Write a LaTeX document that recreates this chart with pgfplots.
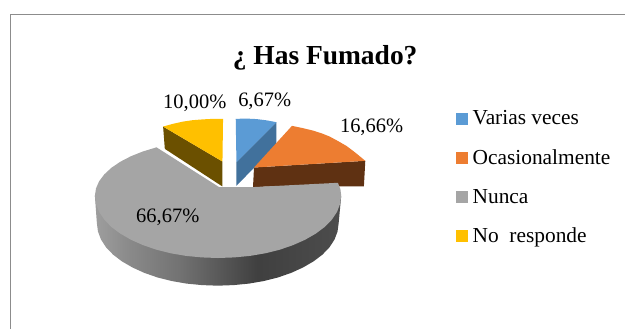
\documentclass[border=0pt]{standalone}
\usepackage{pgfplots}
\pgfplotsset{compat=1.18}
\usepackage{fontspec}
\setmainfont{Liberation Serif}
\definecolor{cblue}{HTML}{5B9BD5}
\definecolor{cblueside}{HTML}{41719C}
\definecolor{corange}{HTML}{ED7D31}
\definecolor{corangeside}{HTML}{5F3112}
\definecolor{cgray}{HTML}{A5A5A5}
\definecolor{cyellow}{HTML}{FFC000}
\definecolor{cyellowside}{HTML}{6B5000}
\definecolor{cframe}{HTML}{8C8C8C}
\pgfdeclarehorizontalshading{sideg}{100bp}{
 color(0bp)=(black!38!white);
 color(25bp)=(black!38!white);
 color(32bp)=(black!46!white);
 color(42bp)=(black!55!white);
 color(58bp)=(black!75!white);
 color(75bp)=(black!70!white);
 color(100bp)=(black!70!white)}
\begin{document}
\begin{tikzpicture}
\begin{axis}[
  scale only axis, width=626pt, height=329pt,
  xmin=0, xmax=626, ymin=0, ymax=329, y dir=reverse,
  hide axis, clip=false,
  legend style={draw=none, fill=none, at={(axis cs:457,110.5)}, anchor=north west,
    font=\fontsize{21.4}{24}\selectfont, row sep=23.4pt, inner sep=0pt, outer sep=0pt,
    nodes={inner sep=0pt, anchor=west}},
  legend cell align=left,
  legend image code/.code={\fill[#1] (0pt,-5.5pt) rectangle (11pt,5.5pt);\path[draw=none,fill=none] (0pt,0pt) -- (16pt,0pt);},
]
\addlegendimage{cblue}\addlegendentry{Varias veces}
\addlegendimage{corange}\addlegendentry{Ocasionalmente}
\addlegendimage{cgray}\addlegendentry{Nunca}
\addlegendimage{cyellow}\addlegendentry{No\ \ responde}

% page extent
\addplot[fill=white, draw=none, forget plot] coordinates {(0,0) (626,0) (626,329) (0,329)} -- cycle;
% frame
\addplot[cframe, line width=1.4pt, forget plot] coordinates {(10.5,329) (10.5,14.5) (626,14.5)};

% blue slice
\addplot[fill=cblueside, draw=none, forget plot] coordinates {(236.7,162.3) (276.7,122.3) (276.7,145) (236.7,186)} -- cycle;
\addplot[fill=cblue, draw=none, forget plot] coordinates {(236.7,162.3) (236,119) (246.5,118.7) (256.7,119.2) (267,120.5) (276.7,122.3)} -- cycle;
% orange slice
\addplot[fill=corangeside, draw=none, forget plot] coordinates {(254.3,167.7) (365.7,161) (364.3,186.5) (253.3,187)} -- cycle;
\addplot[fill=corange, draw=none, forget plot] coordinates {(254.3,167.7) (292.3,126) (302,128) (313.3,130.7) (322,133.5) (330,136.7) (338,141) (346.7,146) (356,153) (365.7,161)} -- cycle;
% yellow slice
\addplot[fill=cyellowside, draw=none, forget plot] coordinates {(163.3,126.7) (222.7,161.7) (222.7,186.7) (165,149)} -- cycle;
\addplot[fill=cyellow, draw=none, forget plot] coordinates {(222.7,161.7) (223.3,119) (213,119) (203.3,119.5) (193,120.3) (183.3,121.7) (173,124) (163.3,126.7)} -- cycle;
% gray side
\addplot[shading=sideg, draw=none, forget plot] coordinates {(95,196) (97,223.7) (98.1,231.8) (101.1,239.8) (106.2,247.6) (113.2,254.9) (122,261.6) (132.5,267.7) (144.3,273.1) (157.5,277.7) (171.7,281.3) (186.7,283.9) (202.1,285.4) (218,286) (233.9,285.4) (249.3,283.9) (264.3,281.3) (278.5,277.7) (291.7,273.1) (303.5,267.7) (314,261.6) (322.8,254.9) (329.8,247.6) (334.9,239.8) (337.9,231.8) (339,223.7) (341.6,196)} -- cycle;
% gray top
\addplot[fill=cgray, draw=none, forget plot] coordinates {(156.7,147.5) (143.2,151.6) (131.1,156.4) (120.5,161.9) (111.5,168) (104.4,174.6) (99.2,181.5) (96.1,188.7) (95,196) (96.1,204.1) (99.2,212.1) (104.4,219.9) (111.5,227.2) (120.5,233.9) (131.1,240) (143.2,245.4) (156.7,250) (171.1,253.6) (186.4,256.2) (202.2,257.7) (218.3,258.3) (234.4,257.7) (250.2,256.2) (265.5,253.6) (280,250) (293.4,245.4) (305.5,240) (316.1,233.9) (325.1,227.2) (332.2,219.9) (337.4,212.1) (340.5,204.1) (341.6,196) (340.8,189.5) (338.3,183) (253.3,187.3) (219.3,187.3)} -- cycle;

\node[font=\fontsize{20.5}{24}\selectfont] at (axis cs:265,101) {6,67\%};
\node[font=\fontsize{20.5}{24}\selectfont] at (axis cs:195,103) {10,00\%};
\node[font=\fontsize{20.5}{24}\selectfont] at (axis cs:372,127) {16,66\%};
\node[font=\fontsize{20.5}{24}\selectfont] at (axis cs:168,218) {66,67\%};
\node[font=\fontsize{27.5}{30}\selectfont\bfseries] at (axis cs:325.5,58) {¿ Has Fumado?};
\end{axis}
\end{tikzpicture}
\end{document}
